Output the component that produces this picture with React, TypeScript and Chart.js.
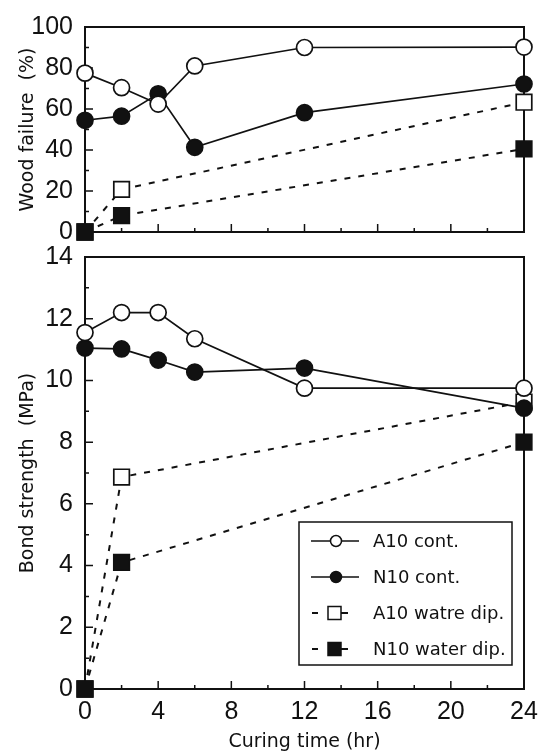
import React, { useEffect, useRef } from 'react';
import { Chart, registerables } from 'chart.js';
Chart.register(...registerables);

// ---- data ----
const curingTime = [0, 2, 4, 6, 12, 24];
const waterTime = [0, 2, 24];
const woodA10Cont = [77.5, 70.4, 62.4, 81, 90, 90.2];
const woodN10Cont = [54.5, 56.5, 67.4, 41.3, 58.2, 72.2];
const woodA10Dip = [0, 20.8, 63.3];
const woodN10Dip = [0, 8, 40.5];
const bondA10Cont = [11.55, 12.2, 12.2, 11.35, 9.75, 9.75];
const bondN10Cont = [11.05, 11.02, 10.66, 10.27, 10.4, 9.1];
const bondA10Dip = [0, 6.87, 9.3];
const bondN10Dip = [0, 4.1, 8.0];

const seriesNames = ['A10 cont.', 'N10 cont.', 'A10 watre dip.', 'N10 water dip.'];
const xMin = 0, xMax = 24, xStep = 4, xMinor = 2;
const woodMax = 100, woodStep = 20, woodMinor = 10;
const bondMax = 14, bondStep = 2, bondMinor = 1;

const INK = '#111';
const TICK_FONT = { family: "'Liberation Sans', Arial, sans-serif", size: 25 };
const TITLE_FONT = { family: "'DejaVu Sans', sans-serif", size: 19 };

const pts = (xs: number[], ys: number[]) => xs.map((x, i) => ({ x, y: ys[i] }));

function makeDatasets(a: number[], n: number[], ad: number[], nd: number[]) {
  const base = { showLine: true, fill: false, tension: 0, borderColor: INK, borderWidth: 1.7, pointBorderColor: INK, pointBorderWidth: 1.7, clip: false as any };
  return [
    { ...base, order: 0, label: seriesNames[0], data: pts(curingTime, a), pointStyle: 'circle', pointRadius: 8, pointBackgroundColor: '#fff' },
    { ...base, order: 1, label: seriesNames[1], data: pts(curingTime, n), pointStyle: 'circle', pointRadius: 8, pointBackgroundColor: INK },
    { ...base, order: 3, label: seriesNames[2], data: pts(waterTime, ad), pointStyle: 'rect', pointRadius: 11, pointBackgroundColor: '#fff', borderDash: [6, 8], borderWidth: 2 },
    { ...base, order: 2, label: seriesNames[3], data: pts(waterTime, nd), pointStyle: 'rect', pointRadius: 11, pointBackgroundColor: INK, borderDash: [6, 8], borderWidth: 2 },
  ];
}

const frameTicks = (yMinorStep: number, yMajorStep: number) => ({
  id: 'frameTicks',
  beforeDatasetsDraw(chart: any) {
    const { ctx, chartArea: a, scales } = chart;
    const xs = scales.x, ys = scales.y;
    ctx.save();
    ctx.strokeStyle = INK;
    ctx.lineWidth = 2;
    ctx.strokeRect(a.left, a.top, a.right - a.left, a.bottom - a.top);
    ctx.lineWidth = 1.5;
    ctx.beginPath();
    for (let v = xs.min + xMinor; v < xs.max; v += xMinor) {
      const px = xs.getPixelForValue(v);
      const len = v % xStep === 0 ? 8 : 4;
      ctx.moveTo(px, a.bottom);
      ctx.lineTo(px, a.bottom - len);
    }
    for (let v = ys.min + yMinorStep; v < ys.max; v += yMinorStep) {
      const py = ys.getPixelForValue(v);
      const len = Math.abs(v % yMajorStep) < 1e-9 ? 8 : 4;
      ctx.moveTo(a.left, py);
      ctx.lineTo(a.left + len, py);
    }
    ctx.stroke();
    ctx.restore();
  },
});

const legendPlugin = {
  id: 'boxLegend',
  afterDatasetsDraw(chart: any) {
    const { ctx, chartArea: a } = chart;
    const w = 213, h = 143;
    const left = a.right - 12 - w;
    const top = a.bottom - 24 - h;
    ctx.save();
    ctx.fillStyle = '#fff';
    ctx.fillRect(left, top, w, h);
    ctx.strokeStyle = INK;
    ctx.lineWidth = 1.5;
    ctx.strokeRect(left, top, w, h);
    ctx.font = "18px 'DejaVu Sans', sans-serif";
    ctx.textBaseline = 'middle';
    ctx.textAlign = 'left';
    chart.data.datasets.forEach((ds: any, i: number) => {
      const cy = top + 19 + i * 36;
      ctx.strokeStyle = INK;
      ctx.lineWidth = 1.5;
      if (ds.pointStyle === 'circle') {
        ctx.beginPath();
        ctx.moveTo(left + 12, cy);
        ctx.lineTo(left + 60, cy);
        ctx.stroke();
        ctx.beginPath();
        ctx.arc(left + 37, cy, 5.5, 0, Math.PI * 2);
        ctx.fillStyle = ds.pointBackgroundColor;
        ctx.fill();
        ctx.stroke();
      } else {
        ctx.lineWidth = 2;
        ctx.beginPath();
        ctx.moveTo(left + 13, cy);
        ctx.lineTo(left + 19, cy);
        ctx.moveTo(left + 41, cy);
        ctx.lineTo(left + 49, cy);
        ctx.stroke();
        ctx.lineWidth = 1.5;
        ctx.fillStyle = ds.pointBackgroundColor;
        ctx.fillRect(left + 29, cy - 6.5, 13, 13);
        ctx.strokeRect(left + 29, cy - 6.5, 13, 13);
      }
      ctx.fillStyle = INK;
      ctx.fillText(ds.label, left + 74, cy + 1);
    });
    ctx.restore();
  },
};

function useChart(ref: React.RefObject<HTMLCanvasElement>, make: () => any) {
  useEffect(() => {
    if (!ref.current) return;
    const c = new Chart(ref.current, make());
    return () => c.destroy();
  }, []);
}

export default function App() {
  const topRef = useRef<HTMLCanvasElement>(null);
  const botRef = useRef<HTMLCanvasElement>(null);

  useChart(topRef, () => ({
    type: 'line',
    data: { datasets: makeDatasets(woodA10Cont, woodN10Cont, woodA10Dip, woodN10Dip) },
    options: {
      animation: false, responsive: false, events: [],
      layout: { padding: { top: 18, right: 28, left: 0, bottom: 0 } },
      plugins: { legend: { display: false }, tooltip: { enabled: false } },
      scales: {
        x: {
          type: 'linear', min: xMin, max: xMax,
          grid: { display: false, drawTicks: false }, border: { display: false },
          ticks: { display: false, stepSize: xStep },
          afterFit: (s: any) => { s.height = 28; },
        },
        y: {
          min: 0, max: woodMax,
          grid: { display: false, drawTicks: false }, border: { display: false },
          ticks: { stepSize: woodStep, padding: 12, color: INK, font: TICK_FONT },
          title: { display: true, text: 'Wood failure  (%)', color: INK, font: TITLE_FONT, padding: { top: 17, bottom: 0 } },
          afterFit: (s: any) => { s.width = 85; },
        },
      },
    },
    plugins: [frameTicks(woodMinor, woodStep)],
  }));

  useChart(botRef, () => ({
    type: 'line',
    data: { datasets: makeDatasets(bondA10Cont, bondN10Cont, bondA10Dip, bondN10Dip) },
    options: {
      animation: false, responsive: false, events: [],
      layout: { padding: { top: 24, right: 28, left: 0, bottom: 0 } },
      plugins: { legend: { display: false }, tooltip: { enabled: false } },
      scales: {
        x: {
          type: 'linear', min: xMin, max: xMax,
          grid: { display: false, drawTicks: false }, border: { display: false },
          ticks: { stepSize: xStep, padding: 8, color: INK, font: TICK_FONT, maxRotation: 0 },
          title: { display: true, text: 'Curing time (hr)', color: INK, font: TITLE_FONT, padding: { top: 0, bottom: 0 } },
          afterFit: (s: any) => { s.height = 64; },
        },
        y: {
          min: 0, max: bondMax,
          grid: { display: false, drawTicks: false }, border: { display: false },
          ticks: { stepSize: bondStep, padding: 12, color: INK, font: TICK_FONT },
          title: { display: true, text: 'Bond strength  (MPa)', color: INK, font: TITLE_FONT, padding: { top: 17, bottom: 0 } },
          afterFit: (s: any) => { s.width = 85; },
        },
      },
    },
    plugins: [frameTicks(bondMinor, bondStep), legendPlugin],
  }));

  return (
    <div style={{ position: 'absolute', left: 0, top: 0, width: 552, height: 753, background: '#fff' }}>
      <canvas ref={botRef} width={552} height={523} style={{ position: 'absolute', left: 0, top: 230, width: 552, height: 523 }} />
      <canvas ref={topRef} width={552} height={260} style={{ position: 'absolute', left: 0, top: 0, width: 552, height: 260 }} />
    </div>
  );
}
